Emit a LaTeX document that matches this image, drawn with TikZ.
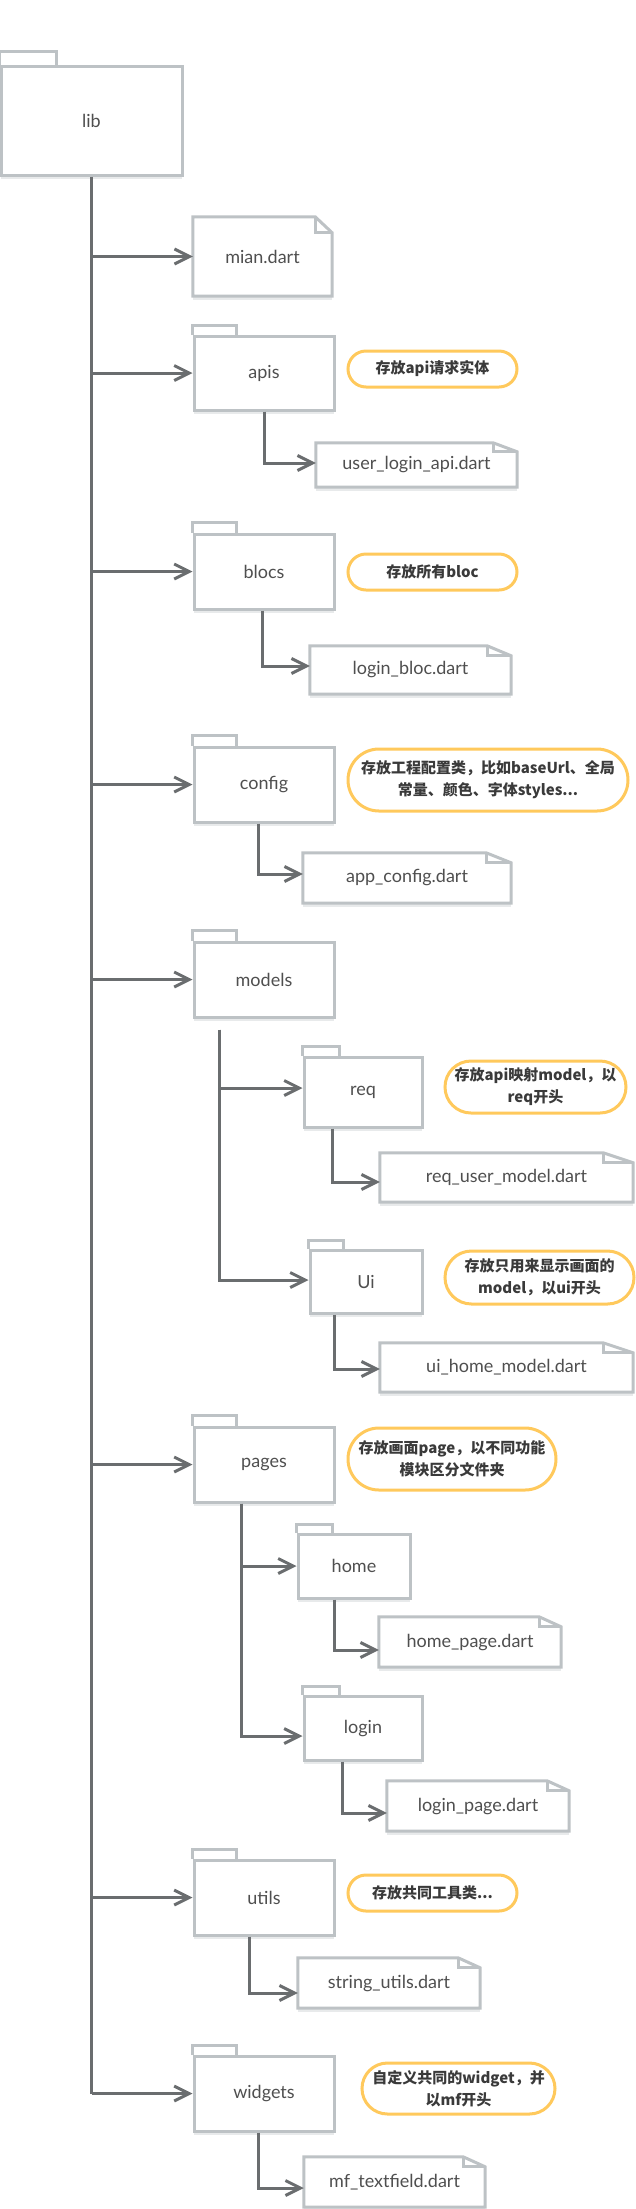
\documentclass[tikz,border=0pt]{standalone}
\usepackage{fontspec}
\setmainfont{Lato}
\newfontfamily\cjk{Noto Sans CJK SC}
\usetikzlibrary{arrows.meta,shapes.misc,shadows}
\definecolor{boxgray}{HTML}{BDC2C5}
\definecolor{linkgray}{HTML}{6A6D6F}
\definecolor{pillyellow}{HTML}{FFC95C}
\definecolor{labelgray}{HTML}{4F4F4F}
\definecolor{pilltext}{HTML}{3A3A3A}

\begin{document}
\begin{tikzpicture}[x=1pt,y=-1pt]
                \tikzstyle{every node}+=[inner sep=0pt]
                \tikzstyle{boxshadow}=[drop shadow={shadow xshift=0pt, shadow yshift=-4pt, fill=boxgray, opacity=0.35}]
                \tikzstyle{folder}=[draw=boxgray, line width=3pt, fill=white, text=labelgray, font=\fontsize{18}{22}\selectfont, boxshadow]
                \tikzstyle{tab}=[draw=boxgray, line width=3pt]
                \tikzstyle{file}=[fill=white, text=labelgray, font=\fontsize{18}{22}\selectfont, boxshadow]
                \tikzstyle{filebox}=[draw=boxgray, line width=3pt, line join=miter]
                \tikzstyle{pill}=[rounded rectangle, draw=pillyellow, line width=3pt, fill=white, align=center, text=pilltext, font=\cjk\bfseries\fontsize{15}{22}\selectfont]
                \tikzstyle{link}=[draw=linkgray, line width=3pt, -{Straight Barb[length=15pt,width=15pt]}]
                \useasboundingbox (0,0) rectangle (636,2209);
                \node [folder, minimum width=181, minimum height=109] (lib) at (91.5,120.5) {lib};
                \draw [tab] (lib.north west) -- ++(0,-13) -- ++(57,0) -- ++(0,13);
                \node [file, minimum width=139, minimum height=79] (mian) at (262.5,256.5) {mian.dart};
                \draw [filebox] (mian.north west) -- ([xshift=-17]mian.north east) -- ([yshift=-16]mian.north east) -- (mian.south east) -- (mian.south west) -- cycle;
                \draw [filebox] ([xshift=-17]mian.north east) |- ([yshift=-16]mian.north east);
                \node [folder, minimum width=140, minimum height=74] (apis) at (264,373) {apis};
                \draw [tab] (apis.north west) -- ++(0,-9) -- ++(44,0) -- ++(0,9);
                \node [pill, minimum width=169, minimum height=36] (apisnote) at (432.5,369) {存放api请求实体};
                \node [file, minimum width=201, minimum height=44] (userapi) at (416.5,465) {user\_login\_api.dart};
                \draw [filebox] (userapi.north west) -- ([xshift=-24]userapi.north east) -- ([yshift=-9]userapi.north east) -- (userapi.south east) -- (userapi.south west) -- cycle;
                \draw [filebox] ([xshift=-24]userapi.north east) |- ([yshift=-9]userapi.north east);
                \node [folder, minimum width=140, minimum height=75] (blocs) at (264,571.5) {blocs};
                \draw [tab] (blocs.north west) -- ++(0,-10) -- ++(44,0) -- ++(0,10);
                \node [pill, minimum width=169, minimum height=36] (blocsnote) at (432.5,572) {存放所有bloc};
                \node [file, minimum width=201, minimum height=48] (loginbloc) at (410.5,670) {login\_bloc.dart};
                \draw [filebox] (loginbloc.north west) -- ([xshift=-24]loginbloc.north east) -- ([yshift=-10]loginbloc.north east) -- (loginbloc.south east) -- (loginbloc.south west) -- cycle;
                \draw [filebox] ([xshift=-24]loginbloc.north east) |- ([yshift=-10]loginbloc.north east);
                \node [folder, minimum width=140, minimum height=75] (config) at (264,784.5) {config};
                \draw [tab] (config.north west) -- ++(0,-10) -- ++(44,0) -- ++(0,10);
                \node [pill, minimum width=280, minimum height=62] (confignote) at (488,780) {存放工程配置类，比如baseUrl、全局\\常量、颜色、字体styles...};
                \node [file, minimum width=208, minimum height=50] (appcfg) at (407,878) {app\_config.dart};
                \draw [filebox] (appcfg.north west) -- ([xshift=-25]appcfg.north east) -- ([yshift=-10]appcfg.north east) -- (appcfg.south east) -- (appcfg.south west) -- cycle;
                \draw [filebox] ([xshift=-25]appcfg.north east) |- ([yshift=-10]appcfg.north east);
                \node [folder, minimum width=140, minimum height=75] (models) at (264,979.5) {models};
                \draw [tab] (models.north west) -- ++(0,-10) -- ++(44,0) -- ++(0,10);
                \node [folder, minimum width=118, minimum height=70] (req) at (363,1092) {req};
                \draw [tab] (req.north west) -- ++(0,-9) -- ++(37,0) -- ++(0,9);
                \node [pill, minimum width=181, minimum height=52] (reqnote) at (535.5,1087) {存放api映射model，以\\req开头};
                \node [file, minimum width=253, minimum height=49] (requser) at (506.5,1177.5) {req\_user\_model.dart};
                \draw [filebox] (requser.north west) -- ([xshift=-30]requser.north east) -- ([yshift=-10]requser.north east) -- (requser.south east) -- (requser.south west) -- cycle;
                \draw [filebox] ([xshift=-30]requser.north east) |- ([yshift=-10]requser.north east);
                \node [folder, minimum width=112, minimum height=63] (ui) at (366,1281.5) {Ui};
                \draw [tab] (ui.north west) -- ++(0,-8) -- ++(35,0) -- ++(0,8);
                \node [pill, minimum width=189, minimum height=53] (uinote) at (539.5,1277.5) {存放只用来显示画面的\\model，以ui开头};
                \node [file, minimum width=253, minimum height=49] (uihome) at (506.5,1367.5) {ui\_home\_model.dart};
                \draw [filebox] (uihome.north west) -- ([xshift=-30]uihome.north east) -- ([yshift=-10]uihome.north east) -- (uihome.south east) -- (uihome.south west) -- cycle;
                \draw [filebox] ([xshift=-30]uihome.north east) |- ([yshift=-10]uihome.north east);
                \node [folder, minimum width=140, minimum height=75] (pages) at (264,1464.5) {pages};
                \draw [tab] (pages.north west) -- ++(0,-10) -- ++(44,0) -- ++(0,10);
                \node [pill, minimum width=208, minimum height=62] (pagesnote) at (452,1459) {存放画面page，以不同功能\\模块区分文件夹};
                \node [folder, minimum width=112, minimum height=64] (home) at (354,1566) {home};
                \draw [tab] (home.north west) -- ++(0,-8) -- ++(36,0) -- ++(0,8);
                \node [file, minimum width=182, minimum height=50] (homepage) at (470,1642) {home\_page.dart};
                \draw [filebox] (homepage.north west) -- ([xshift=-22]homepage.north east) -- ([yshift=-10]homepage.north east) -- (homepage.south east) -- (homepage.south west) -- cycle;
                \draw [filebox] ([xshift=-22]homepage.north east) |- ([yshift=-10]homepage.north east);
                \node [folder, minimum width=118, minimum height=64] (login) at (363,1728) {login};
                \draw [tab] (login.north west) -- ++(0,-8) -- ++(37,0) -- ++(0,8);
                \node [file, minimum width=182, minimum height=50] (loginpage) at (478,1806) {login\_page.dart};
                \draw [filebox] (loginpage.north west) -- ([xshift=-22]loginpage.north east) -- ([yshift=-10]loginpage.north east) -- (loginpage.south east) -- (loginpage.south west) -- cycle;
                \draw [filebox] ([xshift=-22]loginpage.north east) |- ([yshift=-10]loginpage.north east);
                \node [folder, minimum width=140, minimum height=75] (utils) at (264,1897.5) {utils};
                \draw [tab] (utils.north west) -- ++(0,-9) -- ++(44,0) -- ++(0,9);
                \node [pill, minimum width=169, minimum height=36] (utilsnote) at (432.5,1893) {存放共同工具类...};
                \node [file, minimum width=182, minimum height=50] (strutils) at (389,1983) {string\_utils.dart};
                \draw [filebox] (strutils.north west) -- ([xshift=-22]strutils.north east) -- ([yshift=-10]strutils.north east) -- (strutils.south east) -- (strutils.south west) -- cycle;
                \draw [filebox] ([xshift=-22]strutils.north east) |- ([yshift=-10]strutils.north east);
                \node [folder, minimum width=140, minimum height=75] (widgets) at (264,2093.5) {widgets};
                \draw [tab] (widgets.north west) -- ++(0,-9) -- ++(44,0) -- ++(0,9);
                \node [pill, minimum width=193, minimum height=51] (widgetsnote) at (458.5,2088.5) {自定义共同的widget，并\\以mf开头};
                \node [file, minimum width=181, minimum height=50] (mftext) at (394.5,2182) {mf\_textfield.dart};
                \draw [filebox] (mftext.north west) -- ([xshift=-22]mftext.north east) -- ([yshift=-10]mftext.north east) -- (mftext.south east) -- (mftext.south west) -- cycle;
                \draw [filebox] ([xshift=-22]mftext.north east) |- ([yshift=-10]mftext.north east);
                \draw [draw=linkgray, line width=3pt] (lib.south) -- (lib.south |- widgets.west);
                \draw [link] (lib.south |- mian.west) -- (mian.west);
                \draw [link] (lib.south |- apis.west) -- (apis.west);
                \draw [link] (lib.south |- blocs.west) -- (blocs.west);
                \draw [link] (lib.south |- config.west) -- (config.west);
                \draw [link] (lib.south |- models.west) -- (models.west);
                \draw [link] (lib.south |- pages.west) -- (pages.west);
                \draw [link] (lib.south |- utils.west) -- (utils.west);
                \draw [link] (lib.south |- widgets.west) -- (widgets.west);
                \draw [link] (apis.south) |- ([yshift=2]userapi.west);
                \draw [link] ([xshift=-2]blocs.south) |- ([yshift=4]loginbloc.west);
                \draw [link] ([xshift=-6]config.south) |- ([yshift=4]appcfg.west);
                \coordinate (modelsfork) at ([xshift=-45,yshift=-11]models.south);
                \draw [link] (modelsfork) |- ([yshift=4]req.west);
                \draw [link] (modelsfork) |- ([yshift=1.5]ui.west);
                \draw [link] ([xshift=-31]req.south) |- ([yshift=-4.5]requser.west);
                \draw [link] ([xshift=-32]ui.south) |- ([yshift=-1.5]uihome.west);
                \draw [link] ([xshift=-23]pages.south) |- (home.west);
                \draw [link] ([xshift=-23]pages.south) |- ([yshift=-8]login.west);
                \draw [link] ([xshift=-20]home.south) |- ([yshift=-8]homepage.west);
                \draw [link] ([xshift=-21]login.south) |- ([yshift=-7]loginpage.west);
                \draw [link] ([xshift=-15]utils.south) |- ([yshift=-10]strutils.west);
                \draw [link] ([xshift=-6]widgets.south) |- ([yshift=-6]mftext.west);
            \end{tikzpicture}
\end{document}
